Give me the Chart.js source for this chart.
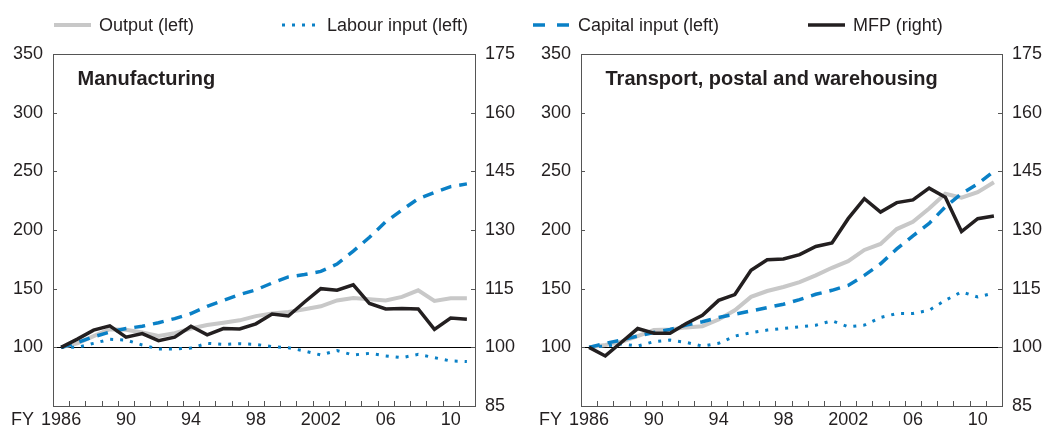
<!DOCTYPE html>
<html>
<head>
<meta charset="utf-8">
<script src="https://cdn.jsdelivr.net/npm/chart.js@4.4.1/dist/chart.umd.min.js"></script>
<style>
  body { margin: 0; background: #fff; }
  #wrap { position: relative; width: 1045px; height: 428px; font-family: "Liberation Sans", Arial, sans-serif; color: #231f20; }
  canvas { position: absolute; top: 0; }
  .lg { position: absolute; top: 16px; font-size: 18px; line-height: 18px; white-space: nowrap; }
  .sw { position: absolute; top: 21px; }
</style>
</head>
<body>
<div id="wrap">
  <canvas id="c1" width="520" height="428" style="left:0"></canvas>
  <canvas id="c2" width="525" height="428" style="left:520px"></canvas>

  <svg class="sw" style="left:54px" width="37" height="8"><line x1="0" y1="4" x2="37" y2="4" stroke="#c8c8c8" stroke-width="4"/></svg>
  <div class="lg" style="left:99px">Output (left)</div>
  <svg class="sw" style="left:282px" width="37" height="8"><line x1="0" y1="4" x2="37" y2="4" stroke="#0a80c6" stroke-width="3" stroke-dasharray="3 7"/></svg>
  <div class="lg" style="left:327px">Labour input (left)</div>
  <svg class="sw" style="left:533px" width="37" height="8"><line x1="0" y1="4" x2="37" y2="4" stroke="#0a80c6" stroke-width="3.5" stroke-dasharray="12 12"/></svg>
  <div class="lg" style="left:578px">Capital input (left)</div>
  <svg class="sw" style="left:808px" width="37" height="8"><line x1="0" y1="4" x2="37" y2="4" stroke="#231f20" stroke-width="3.5"/></svg>
  <div class="lg" style="left:853px">MFP (right)</div>
</div>
<script>
// ========================
// DATA
// ========================
const years = [1986, 1987, 1988, 1989, 1990, 1991, 1992, 1993, 1994, 1995, 1996, 1997, 1998,
               1999, 2000, 2001, 2002, 2003, 2004, 2005, 2006, 2007, 2008, 2009, 2010, 2011];

// Manufacturing (output/labour/capital on left axis, MFP on right axis)
const mfgOutput  = [100, 103.4, 109.6, 115.5, 115, 112.7, 109.6, 112, 116, 119, 121, 123, 126.6,
                    128.8, 130.2, 132.5, 135, 140, 142, 141, 140, 143, 148.6, 139.5, 141.8, 141.8];
const mfgLabour  = [100, 100, 103.4, 106.8, 106.2, 102, 98.6, 98.6, 99.4, 103.4, 102.5, 103.1, 102.5,
                    100.6, 99.7, 96.9, 93.5, 97.2, 93.5, 94.9, 92.7, 91.2, 94, 91.2, 88.4, 87.9];
const mfgCapital = [100, 104, 109, 113, 116, 118, 121, 124.5, 128.8, 135, 140, 145, 149,
                    154.8, 160, 162, 164.7, 171, 182, 193.8, 207, 217, 226.7, 232, 237, 239.3];
const mfgMfp     = [100, 102.1, 104.4, 105.5, 102.6, 103.5, 101.7, 102.6, 105.4, 103.2, 104.8, 104.7, 106,
                    108.5, 108, 111.6, 115, 114.6, 116, 111.2, 109.8, 109.9, 109.8, 104.6, 107.5, 107.2];

// Transport, postal and warehousing
const trnOutput  = [100, 102, 104.8, 109.6, 114.7, 115.3, 117, 118, 123.7, 131.6, 143, 148, 151.4,
                    155.6, 161.3, 167.8, 173.4, 183, 188.1, 200.8, 207, 218.3, 230.9, 227.5, 232.3, 240.7];
const trnLabour  = [100, 101.1, 102.8, 101.1, 104.8, 106.2, 104.2, 101.1, 103.4, 109.6, 112.4, 114.7, 116.1,
                    117.5, 118.9, 122.6, 117.5, 118.9, 125.4, 128.8, 128.8, 131.6, 140.1, 147.2, 142.9, 146.3];
const trnCapital = [100, 103.4, 106.2, 109.6, 112.7, 115.3, 119, 121.8, 125.4, 128.2, 131, 133.9, 136.7,
                    140.7, 145.2, 148.6, 152.8, 161.3, 171.2, 183.9, 195, 205.6, 219.7, 230.9, 239.3, 250];
const trnMfp     = [100, 97.8, 101.3, 104.8, 103.6, 103.6, 106.1, 108.2, 112, 113.5, 119.7, 122.4, 122.6,
                    123.7, 125.8, 126.7, 132.9, 138, 134.6, 137, 137.7, 140.7, 138.4, 129.6, 132.9, 133.6];

const leftTicks  = [50, 100, 150, 200, 250, 300, 350];
const rightTicks = [85, 100, 115, 130, 145, 160, 175];

// ========================
// STYLE
// ========================
const TXT = "#231f20";
const AXIS = "#555555";
const GREY = "#c8c8c8";
const BLUE = "#0a80c6";
const BLACK = "#231f20";

Chart.defaults.font.family = '"Liberation Sans", Arial, sans-serif';
Chart.defaults.font.size = 18;
Chart.defaults.color = TXT;

function yearLabel(y) {
  if (y === 1986) return "1986";
  if (y === 2002) return "2002";
  return String(y).slice(2);
}

// frame, inward tick marks, panel title and "FY"
const panelDecor = {
  id: "panelDecor",
  afterDraw(chart, args, opts) {
    const { ctx, chartArea: a, scales } = chart;
    ctx.save();
    ctx.strokeStyle = AXIS;
    ctx.lineWidth = 1;
    ctx.strokeRect(Math.round(a.left) + 0.5, Math.round(a.top) + 0.5,
                   Math.round(a.right - a.left), Math.round(a.bottom - a.top));

    ctx.beginPath();
    const xs = scales.x;
    for (let i = 1; i < years.length; i++) {
      const px = Math.round((xs.getPixelForValue(i - 1) + xs.getPixelForValue(i)) / 2) + 0.5;
      ctx.moveTo(px, a.bottom);
      ctx.lineTo(px, a.bottom - 5);
    }
    for (const v of leftTicks) {
      const py = Math.round(scales.y.getPixelForValue(v)) + 0.5;
      ctx.moveTo(a.left, py);
      ctx.lineTo(a.left + 4, py);
    }
    for (const v of rightTicks) {
      const py = Math.round(scales.y2.getPixelForValue(v)) + 0.5;
      ctx.moveTo(a.right, py);
      ctx.lineTo(a.right - 4, py);
    }
    ctx.stroke();

    ctx.fillStyle = TXT;
    ctx.textBaseline = "alphabetic";
    ctx.textAlign = "left";
    ctx.font = 'bold 20px "Liberation Sans", Arial, sans-serif';
    ctx.fillText(opts.title, a.left + 24.5, a.top + 31);
    ctx.font = '18px "Liberation Sans", Arial, sans-serif';
    ctx.fillText("FY", a.left - 42, 425);
    ctx.restore();
  }
};

function makePanel(id, title, output, labour, capital, mfp, leftW, rightW) {
  const ctx = document.getElementById(id).getContext("2d");
  return new Chart(ctx, {
    type: "line",
    data: {
      labels: years,
      datasets: [
        { label: "MFP (right)", data: mfp, yAxisID: "y2", borderColor: BLACK, borderWidth: 3.5, order: 1 },
        { label: "Capital input (left)", data: capital, yAxisID: "y", borderColor: BLUE, borderWidth: 3.5,
          borderDash: [11, 8], order: 2 },
        { label: "Labour input (left)", data: labour, yAxisID: "y", borderColor: BLUE, borderWidth: 3,
          borderDash: [3, 7], order: 3 },
        { label: "Output (left)", data: output, yAxisID: "y", borderColor: GREY, borderWidth: 4, order: 4 }
      ]
    },
    options: {
      responsive: false,
      animation: false,
      devicePixelRatio: 1,
      layout: { padding: { top: 54, left: 0, right: 0, bottom: 0 } },
      elements: { point: { radius: 0 }, line: { tension: 0, borderCapStyle: "butt" } },
      plugins: { legend: { display: false }, tooltip: { enabled: false }, panelDecor: { title } },
      scales: {
        x: {
          type: "category",
          offset: true,
          grid: { display: false, drawTicks: false },
          border: { display: false },
          ticks: {
            autoSkip: false, maxRotation: 0, padding: 3,
            callback: (v, i) => (i % 4 === 0 ? yearLabel(years[i]) : "")
          },
          afterFit: s => { s.height = 22; }
        },
        y: {
          position: "left",
          min: 50, max: 350,
          border: { display: false },
          grid: {
            drawTicks: false,
            lineWidth: 1,
            color: c => (c.tick && c.tick.value === 100 ? "#000000" : "rgba(0,0,0,0)")
          },
          ticks: { stepSize: 50, padding: 10, callback: v => (v === 50 ? "" : v) },
          afterFit: s => { s.width = leftW; }
        },
        y2: {
          position: "right",
          min: 85, max: 175,
          border: { display: false },
          grid: { display: false, drawTicks: false },
          ticks: { stepSize: 15, padding: 10 },
          afterFit: s => { s.width = rightW; }
        }
      }
    },
    plugins: [panelDecor]
  });
}

makePanel("c1", "Manufacturing", mfgOutput, mfgLabour, mfgCapital, mfgMfp, 53, 45);
makePanel("c2", "Transport, postal and warehousing", trnOutput, trnLabour, trnCapital, trnMfp, 61, 43);
</script>
</body>
</html>
